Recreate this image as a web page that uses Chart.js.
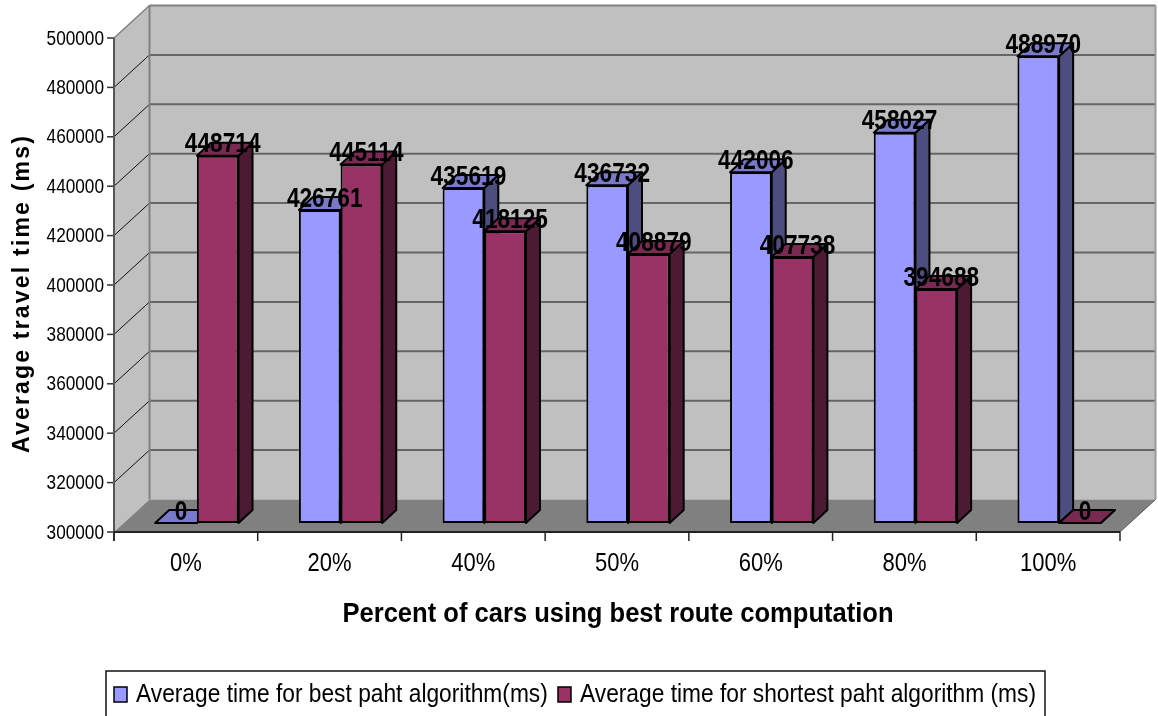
<!DOCTYPE html>
<html>
<head>
<meta charset="utf-8">
<title>Average travel time</title>
<script src="https://cdn.jsdelivr.net/npm/chart.js@4"></script>
<style>
  html, body { margin: 0; padding: 0; background: #fff; overflow: hidden; }
  canvas { display: block; }
</style>
</head>
<body>
<canvas id="travelChart" width="1158" height="716"></canvas>
<script>
// Values
const categories = ["0%", "20%", "40%", "50%", "60%", "80%", "100%"];
const bestPath = [0, 426761, 435619, 436732, 442006, 458027, 488970];
const shortestPath = [448714, 445114, 418125, 408879, 407738, 394688, 0];

const bestLabel = "Average time for best paht algorithm(ms)";
const shortestLabel = "Average time for shortest paht algorithm (ms)";
const xTitle = "Percent of cars using best route computation";
const yTitle = "Average travel time (ms)";

const yMin = 300000;
const yMax = 500000;
const yStep = 20000;

// Fake 3D look of the old spreadsheet chart
const wallDepth = { x: 35.5, y: -32.5 };
const barShift = { x: 11, y: -9 };
const barDepth = { x: 14, y: -13 };

const fontFamily = '"Liberation Sans", Arial, sans-serif';

// The source image is squeezed sideways, so text gets a horizontal scale
const drawText = (ctx, text, x, y, font, scaleX, align = "center", rotate = 0, spacing = "0px") => {
    ctx.save();
    ctx.translate(x, y);
    if (rotate) ctx.rotate(rotate);
    ctx.scale(scaleX, 1);
    ctx.font = font;
    ctx.letterSpacing = spacing;
    ctx.textAlign = align;
    ctx.textBaseline = "middle";
    ctx.fillStyle = "#000";
    ctx.fillText(text, 0, 0);
    ctx.restore();
};

const polygon = (ctx, pts, fill, stroke, lineWidth) => {
    ctx.beginPath();
    pts.forEach((p, i) => (i ? ctx.lineTo(p[0], p[1]) : ctx.moveTo(p[0], p[1])));
    ctx.closePath();
    if (fill) {
        ctx.fillStyle = fill;
        ctx.fill();
    }
    if (stroke) {
        ctx.strokeStyle = stroke;
        ctx.lineWidth = lineWidth;
        ctx.stroke();
    }
};

const line = (ctx, x1, y1, x2, y2, color, lineWidth) => {
    ctx.beginPath();
    ctx.moveTo(x1, y1);
    ctx.lineTo(x2, y2);
    ctx.strokeStyle = color;
    ctx.lineWidth = lineWidth;
    ctx.stroke();
};

const walls3d = {
    id: "walls3d",
    beforeDatasetsDraw(chart) {
        const { ctx, chartArea: a, scales } = chart;
        const dx = wallDepth.x, dy = wallDepth.y;
        // walls and floor
        polygon(ctx, [[a.left, a.top], [a.left + dx, a.top + dy], [a.left + dx, a.bottom + dy], [a.left, a.bottom]], "#c0c0c0");
        polygon(ctx, [[a.left + dx, a.top + dy], [a.right + dx, a.top + dy], [a.right + dx, a.bottom + dy], [a.left + dx, a.bottom + dy]], "#c0c0c0");
        polygon(ctx, [[a.left, a.bottom], [a.left + dx, a.bottom + dy], [a.right + dx, a.bottom + dy], [a.right, a.bottom]], "#808080");

        // grid lines and y ticks come from the value scale
        scales.y.ticks.forEach((t) => {
            const y = scales.y.getPixelForValue(t.value);
            if (t.value > yMin && t.value < yMax) {
                line(ctx, a.left + dx, y + dy, a.right + dx, y + dy, "#666", 2);
                line(ctx, a.left, y, a.left + dx, y + dy, "#111", 1);
            }
            line(ctx, a.left - 7, y, a.left, y, "#333", 1.5);
            drawText(ctx, String(t.value), a.left - 10, y + 1, "20px " + fontFamily, 0.86, "right");
        });

        // wall edges
        line(ctx, a.left + dx, a.top + dy, a.right + dx, a.top + dy, "#808080", 2);
        line(ctx, a.left + dx, a.top + dy, a.left + dx, a.bottom + dy, "#808080", 2);
        line(ctx, a.right + dx, a.top + dy, a.right + dx, a.bottom + dy, "#999", 2);
        line(ctx, a.left, a.top, a.left + dx, a.top + dy, "#808080", 1.5);
        line(ctx, a.right, a.bottom, a.right + dx, a.bottom + dy, "#555", 1);
        line(ctx, a.left, a.top, a.left, a.bottom + 9, "#555", 2);
        line(ctx, a.left, a.bottom, a.right, a.bottom, "#222", 2);

        // category ticks sit between the bars groups
        const step = (a.right - a.left) / categories.length;
        for (let i = 0; i <= categories.length; i++) {
            const x = a.left + i * step;
            line(ctx, x, a.bottom, x, a.bottom + 9, "#222", 1.5);
        }
        categories.forEach((c, i) => {
            drawText(ctx, c, scales.x.getPixelForTick(i), a.bottom + 32, "25px " + fontFamily, 0.88);
        });

        // side and top faces: all of them first, the library then paints the fronts
        chart.getSortedVisibleDatasetMetas().forEach((meta) => {
            const ds = chart.data.datasets[meta.index];
            ctx.save();
            ctx.translate(barShift.x, barShift.y);
            ctx.lineJoin = "round";
            meta.data.forEach((bar) => {
                const { x, y, base, width } = bar.getProps(["x", "y", "base", "width"], true);
                const l = x - width / 2, r = x + width / 2;
                const ox = barDepth.x, oy = barDepth.y;
                polygon(ctx, [[r, y], [r + ox, y + oy], [r + ox, base + oy], [r, base]], ds.sideColor, "#000", 2);
                polygon(ctx, [[l, y], [r, y], [r + ox, y + oy], [l + ox, y + oy]], ds.topColor, "#000", 2);
            });
            ctx.restore();
        });
    },
    beforeDatasetDraw(chart) {
        chart.ctx.save();
        chart.ctx.translate(barShift.x, barShift.y);
    },
    afterDatasetDraw(chart) {
        chart.ctx.restore();
    },
    afterDatasetsDraw(chart) {
        const { ctx } = chart;
        // value labels lie on top of everything
        chart.getSortedVisibleDatasetMetas().forEach((meta) => {
            const raw = chart.data.datasets[meta.index].rawValues;
            meta.data.forEach((bar, i) => {
                const { x, y } = bar.getProps(["x", "y"], true);
                drawText(ctx, String(raw[i]), x + barShift.x + 5, y + barShift.y - 11, "bold 28px " + fontFamily, 0.81);
            });
        });

        // axis titles
        drawText(ctx, xTitle, 618, 614, "bold 28px " + fontFamily, 0.913);
        drawText(ctx, yTitle, 23, 293.5, "bold 23px " + fontFamily, 1.0, "center", -Math.PI / 2, "2.2px");

        // legend, its bottom edge falls outside the picture
        ctx.strokeStyle = "#111";
        ctx.lineWidth = 1.5;
        ctx.strokeRect(106, 671, 939, 60);
        chart.data.datasets.forEach((ds, i) => {
            const sx = [114, 558][i], tx = [136, 580][i];
            polygon(ctx, [[sx, 687], [sx + 13, 687], [sx + 13, 702], [sx, 702]], ds.backgroundColor, "#000", 1.5);
            drawText(ctx, ds.label, tx, 695, "25px " + fontFamily, 0.91, "left");
        });
    }
};

const clampToAxis = (values) => values.map((v) => Math.max(v, yMin));

new Chart(document.getElementById("travelChart").getContext("2d"), {
    type: "bar",
    data: {
        labels: categories,
        datasets: [
            {
                label: bestLabel,
                data: clampToAxis(bestPath),
                rawValues: bestPath,
                base: yMin,
                backgroundColor: "#9999ff",
                topColor: "#7a7acc",
                sideColor: "#4d4d80",
                borderColor: "#000",
                borderWidth: 2,
                borderSkipped: false,
                clip: false
            },
            {
                label: shortestLabel,
                data: clampToAxis(shortestPath),
                rawValues: shortestPath,
                base: yMin,
                backgroundColor: "#993366",
                topColor: "#7a2952",
                sideColor: "#4d1a33",
                borderColor: "#000",
                borderWidth: 2,
                borderSkipped: false,
                clip: false
            }
        ]
    },
    options: {
        responsive: false,
        animation: false,
        categoryPercentage: 0.58,
        barPercentage: 1,
        layout: { padding: { top: 38, right: 38 } },
        plugins: { legend: { display: false }, tooltip: { enabled: false } },
        scales: {
            x: {
                grid: { display: false },
                border: { display: false },
                ticks: { display: false },
                afterFit(scale) { scale.height = 184; }
            },
            y: {
                min: yMin,
                max: yMax,
                grid: { display: false },
                border: { display: false },
                ticks: { display: false, stepSize: yStep },
                afterFit(scale) { scale.width = 114; }
            }
        }
    },
    plugins: [walls3d]
});
</script>
</body>
</html>
